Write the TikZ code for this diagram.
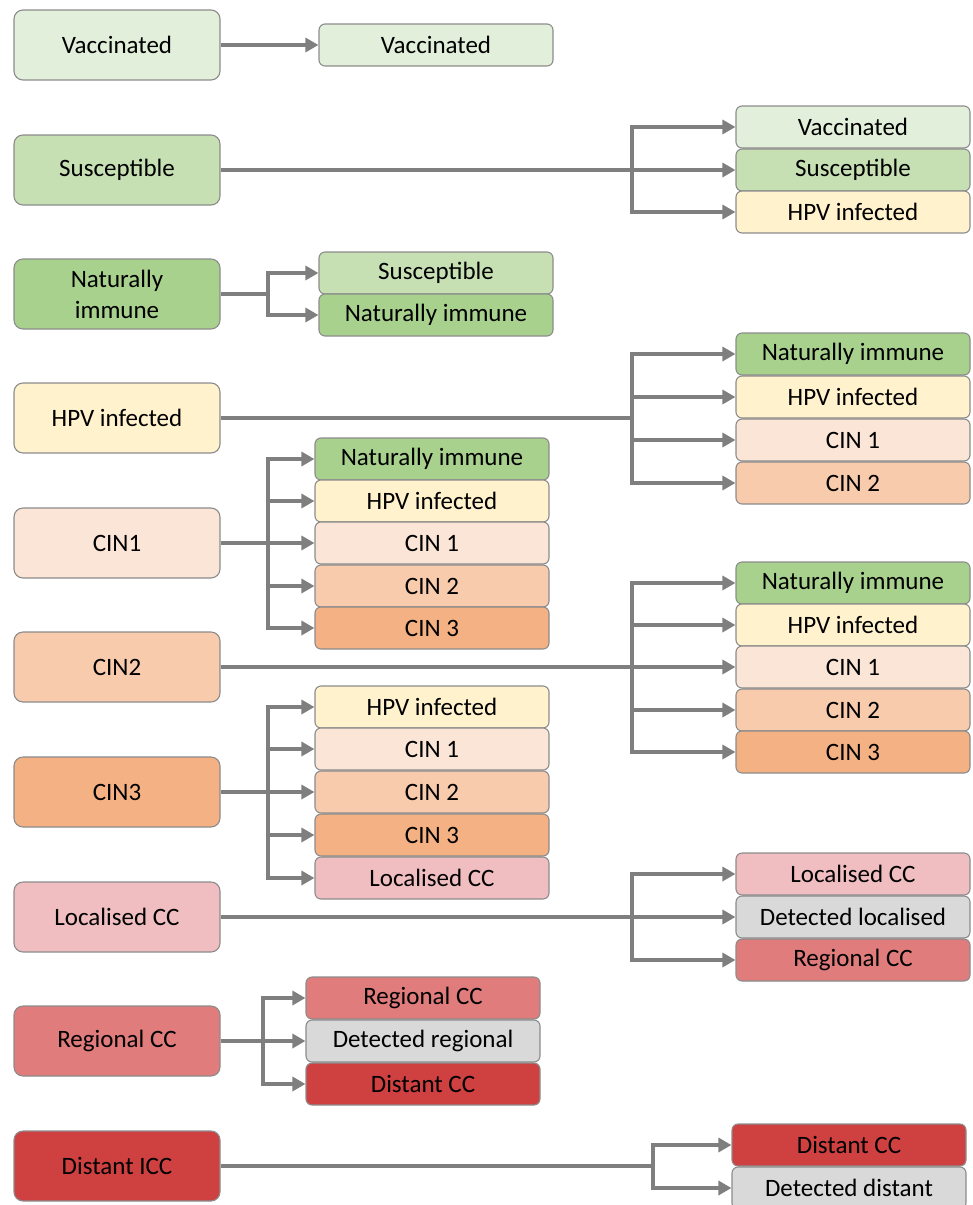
\documentclass[tikz,border=0pt]{standalone}
\usepackage{fontspec}
\setmainfont{Carlito}
\usetikzlibrary{arrows.meta}

\definecolor{vacc}{HTML}{E2EFDA}
\definecolor{susc}{HTML}{C6E0B4}
\definecolor{immu}{HTML}{A9D18E}
\definecolor{hpvi}{HTML}{FFF2CC}
\definecolor{cinone}{HTML}{FBE5D6}
\definecolor{cintwo}{HTML}{F8CBAD}
\definecolor{cinthree}{HTML}{F4B183}
\definecolor{locc}{HTML}{F0BEC0}
\definecolor{regc}{HTML}{E07C7C}
\definecolor{dist}{HTML}{CF4040}
\definecolor{detc}{HTML}{D9D9D9}
\definecolor{edge}{HTML}{8C8C8C}
\definecolor{wire}{HTML}{7F7F7F}

\tikzset{
  state/.style={draw=edge, line width=1.1pt, rounded corners=9pt, align=center,
    minimum width=206pt, minimum height=70pt, inner sep=0pt,
    font=\fontsize{25}{29}\selectfont},
  next/.style={draw=edge, line width=1.1pt, rounded corners=6pt,
    minimum width=234pt, minimum height=42pt, inner sep=0pt,
    font=\fontsize{25}{29}\selectfont},
  flow/.style={draw=wire, line width=3.2pt},
}

\begin{document}
\begin{tikzpicture}[x=1pt, y=-1pt, >={Triangle[length=13pt,width=14pt]}]
    \useasboundingbox (0,0) rectangle (973,1205);
    \clip (0,0) rectangle (973,1205);

    % States (left column)
    \node[state, fill=vacc] (vac) at (117,45) {Vaccinated};
    \node[state, fill=susc] (sus) at (117,170) {Susceptible};
    \node[state, fill=immu] (nat) at (117,294) {Naturally\\[2pt]immune};
    \node[state, fill=hpvi] (hpv) at (117,418) {HPV infected};
    \node[state, fill=cinone] (cin1) at (117,543) {CIN1};
    \node[state, fill=cintwo] (cin2) at (117,667) {CIN2};
    \node[state, fill=cinthree] (cin3) at (117,792) {CIN3};
    \node[state, fill=locc] (loc) at (117,917) {Localised CC};
    \node[state, fill=regc] (reg) at (117,1041) {Regional CC};
    \node[state, fill=dist] (dis) at (117,1166) {Distant ICC};

    % Vaccinated
    \node[next, fill=vacc] (vac-vac) at (436,45) {Vaccinated};
    \draw[flow, ->] (vac) -- (vac-vac);

    % Susceptible
    \node[next, fill=vacc] (sus-vac) at (853,127) {Vaccinated};
    \node[next, fill=susc] (sus-sus) at (853,170) {Susceptible};
    \node[next, fill=hpvi] (sus-hpv) at (853,212) {HPV infected};
    \coordinate (b-sus) at (632,170);
    \draw[flow] (sus) -- (b-sus);
    \foreach \t in {sus-vac, sus-sus, sus-hpv}
        \draw[flow, ->] (b-sus) |- (\t);

    % Naturally immune
    \node[next, fill=susc] (nat-sus) at (436,273) {Susceptible};
    \node[next, fill=immu] (nat-nat) at (436,315) {Naturally immune};
    \coordinate (b-nat) at (268,294);
    \draw[flow] (nat) -- (b-nat);
    \foreach \t in {nat-sus, nat-nat}
        \draw[flow, ->] (b-nat) |- (\t);

    % HPV infected
    \node[next, fill=immu] (hpv-nat) at (853,354) {Naturally immune};
    \node[next, fill=hpvi] (hpv-hpv) at (853,397) {HPV infected};
    \node[next, fill=cinone] (hpv-c1) at (853,440) {CIN 1};
    \node[next, fill=cintwo] (hpv-c2) at (853,483) {CIN 2};
    \coordinate (b-hpv) at (632,418);
    \draw[flow] (hpv) -- (b-hpv);
    \foreach \t in {hpv-nat, hpv-hpv, hpv-c1, hpv-c2}
        \draw[flow, ->] (b-hpv) |- (\t);

    % CIN1
    \node[next, fill=immu] (c1-nat) at (432,459) {Naturally immune};
    \node[next, fill=hpvi] (c1-hpv) at (432,501) {HPV infected};
    \node[next, fill=cinone] (c1-c1) at (432,543) {CIN 1};
    \node[next, fill=cintwo] (c1-c2) at (432,586) {CIN 2};
    \node[next, fill=cinthree] (c1-c3) at (432,628) {CIN 3};
    \coordinate (b-c1) at (268,543);
    \draw[flow] (cin1) -- (b-c1);
    \foreach \t in {c1-nat, c1-hpv, c1-c1, c1-c2, c1-c3}
        \draw[flow, ->] (b-c1) |- (\t);

    % CIN2
    \node[next, fill=immu] (c2-nat) at (853,583) {Naturally immune};
    \node[next, fill=hpvi] (c2-hpv) at (853,625) {HPV infected};
    \node[next, fill=cinone] (c2-c1) at (853,667) {CIN 1};
    \node[next, fill=cintwo] (c2-c2) at (853,710) {CIN 2};
    \node[next, fill=cinthree] (c2-c3) at (853,752) {CIN 3};
    \coordinate (b-c2) at (632,667);
    \draw[flow] (cin2) -- (b-c2);
    \foreach \t in {c2-nat, c2-hpv, c2-c1, c2-c2, c2-c3}
        \draw[flow, ->] (b-c2) |- (\t);

    % CIN3
    \node[next, fill=hpvi] (c3-hpv) at (432,707) {HPV infected};
    \node[next, fill=cinone] (c3-c1) at (432,749) {CIN 1};
    \node[next, fill=cintwo] (c3-c2) at (432,792) {CIN 2};
    \node[next, fill=cinthree] (c3-c3) at (432,835) {CIN 3};
    \node[next, fill=locc] (c3-loc) at (432,878) {Localised CC};
    \coordinate (b-c3) at (268,792);
    \draw[flow] (cin3) -- (b-c3);
    \foreach \t in {c3-hpv, c3-c1, c3-c2, c3-c3, c3-loc}
        \draw[flow, ->] (b-c3) |- (\t);

    % Localised CC
    \node[next, fill=locc] (loc-loc) at (853,874) {Localised CC};
    \node[next, fill=detc] (loc-det) at (853,917) {Detected localised};
    \node[next, fill=regc] (loc-reg) at (853,960) {Regional CC};
    \coordinate (b-loc) at (632,917);
    \draw[flow] (loc) -- (b-loc);
    \foreach \t in {loc-loc, loc-det, loc-reg}
        \draw[flow, ->] (b-loc) |- (\t);

    % Regional CC
    \node[next, fill=regc] (reg-reg) at (423,998) {Regional CC};
    \node[next, fill=detc] (reg-det) at (423,1041) {Detected regional};
    \node[next, fill=dist] (reg-dis) at (423,1084) {Distant CC};
    \coordinate (b-reg) at (263,1041);
    \draw[flow] (reg) -- (b-reg);
    \foreach \t in {reg-reg, reg-det, reg-dis}
        \draw[flow, ->] (b-reg) |- (\t);

    % Distant ICC
    \node[next, fill=dist] (dis-dis) at (849,1145) {Distant CC};
    \node[next, fill=detc] (dis-det) at (849,1188) {Detected distant};
    \coordinate (b-dis) at (653,1166);
    \draw[flow] (dis) -- (b-dis);
    \foreach \t in {dis-dis, dis-det}
        \draw[flow, ->] (b-dis) |- (\t);
\end{tikzpicture}
\end{document}
